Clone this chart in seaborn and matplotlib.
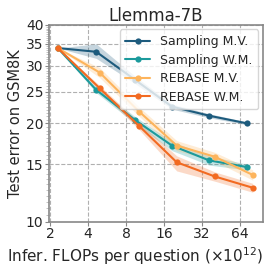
import matplotlib
matplotlib.use("Agg")
import matplotlib.pyplot as plt
import seaborn as sns
import pandas as pd
import numpy as np
from matplotlib.ticker import FixedLocator, NullFormatter, FixedFormatter

sns.set_style("whitegrid")
plt.rcParams['font.family'] = ['DejaVu Sans']

title = "Llemma-7B"
xlabel = "Infer. FLOPs per question ($\\times10^{12}$)"
ylabel = "Test error on GSM8K"

series_names = ["Sampling M.V.", "Sampling W.M.", "REBASE M.V.", "REBASE W.M."]
colors = ["#1d5b7d", "#1b9a9c", "#fdb45c", "#f26a21"]

sampling_x = [2.3, 4.65, 9.4, 18.5, 36.5, 72.5]
rebase_x = [2.3, 4.95, 10.2, 20.2, 40.5, 81.0]

samp_mv = [34.0, 33.1, 27.2, 22.5, 21.1, 20.0]
samp_mv_lo = [34.0, 31.6, 26.5, 22.1, 20.8, 19.8]
samp_mv_hi = [34.0, 35.0, 27.9, 22.9, 21.4, 20.2]

samp_wm = [34.0, 25.3, 20.5, 17.1, 15.4, 14.7]
samp_wm_lo = [34.0, 24.8, 20.0, 16.5, 14.9, 14.4]
samp_wm_hi = [34.0, 25.8, 21.0, 17.6, 15.9, 15.0]

reb_mv = [34.0, 28.6, 21.7, 17.1, 15.8, 13.9]
reb_mv_lo = [34.0, 27.6, 21.0, 16.5, 15.3, 13.4]
reb_mv_hi = [34.0, 29.6, 22.4, 17.7, 16.3, 14.4]

reb_wm = [34.0, 25.6, 19.6, 15.2, 13.75, 12.7]
reb_wm_lo = [34.0, 25.1, 19.1, 14.3, 13.3, 12.3]
reb_wm_hi = [34.0, 26.1, 20.1, 15.9, 14.2, 13.1]

yticks = [10, 15, 20, 25, 30, 35, 40]
xticks = [2, 4, 8, 16, 32, 64]

data = [
    (sampling_x, samp_mv, samp_mv_lo, samp_mv_hi),
    (sampling_x, samp_wm, samp_wm_lo, samp_wm_hi),
    (rebase_x, reb_mv, reb_mv_lo, reb_mv_hi),
    (rebase_x, reb_wm, reb_wm_lo, reb_wm_hi),
]

fig = plt.figure(figsize=(2.71, 2.71), dpi=100)
ax = fig.add_axes([0.181, 0.182, 0.789, 0.726])

for name, col, (xs, ys, lo, hi) in zip(series_names, colors, data):
    df = pd.DataFrame({"x": xs, "y": ys})
    sns.lineplot(data=df, x="x", y="y", ax=ax, color=col, marker="o",
                 markersize=4.5, markeredgewidth=0, linewidth=1.5, label=name)
    ax.fill_between(xs, lo, hi, color=col, alpha=0.25, linewidth=0)

ax.set_xscale("log", base=2)
ax.set_yscale("log")
ax.set_xlim(1.964, 97.4)
ax.set_ylim(10, 40)
ax.xaxis.set_major_locator(FixedLocator(xticks))
ax.xaxis.set_major_formatter(FixedFormatter([str(t) for t in xticks]))
ax.xaxis.set_minor_locator(FixedLocator([]))
ax.yaxis.set_major_locator(FixedLocator(yticks))
ax.yaxis.set_major_formatter(FixedFormatter([str(t) for t in yticks]))
ax.yaxis.set_minor_locator(FixedLocator(np.arange(10, 40.1, 0.5)))
ax.yaxis.set_minor_formatter(NullFormatter())

ax.grid(True, which="major", linestyle="--", color="#b0b0b0", linewidth=0.8)
ax.grid(False, which="minor")
ax.tick_params(axis="both", which="major", labelsize=10, length=3, width=0.8,
               color="#888888", pad=1, left=True, bottom=True)
ax.tick_params(axis="y", which="minor", length=2, width=0.5, color="#aaaaaa", left=True)
for s in ax.spines.values():
    s.set_color("#888888")
    s.set_linewidth(1.2)

ax.set_title(title, fontsize=12, pad=3)
ax.set_xlabel(xlabel, fontsize=11)
ax.xaxis.set_label_coords(0.40, -0.12)
ax.set_ylabel(ylabel, fontsize=10.5, labelpad=2)

leg = ax.legend(loc="upper right", fontsize=9, framealpha=0.8, borderpad=0.45,
                handlelength=2.0, labelspacing=0.45, borderaxespad=0.35)

fig.savefig("out.png", dpi=100)
